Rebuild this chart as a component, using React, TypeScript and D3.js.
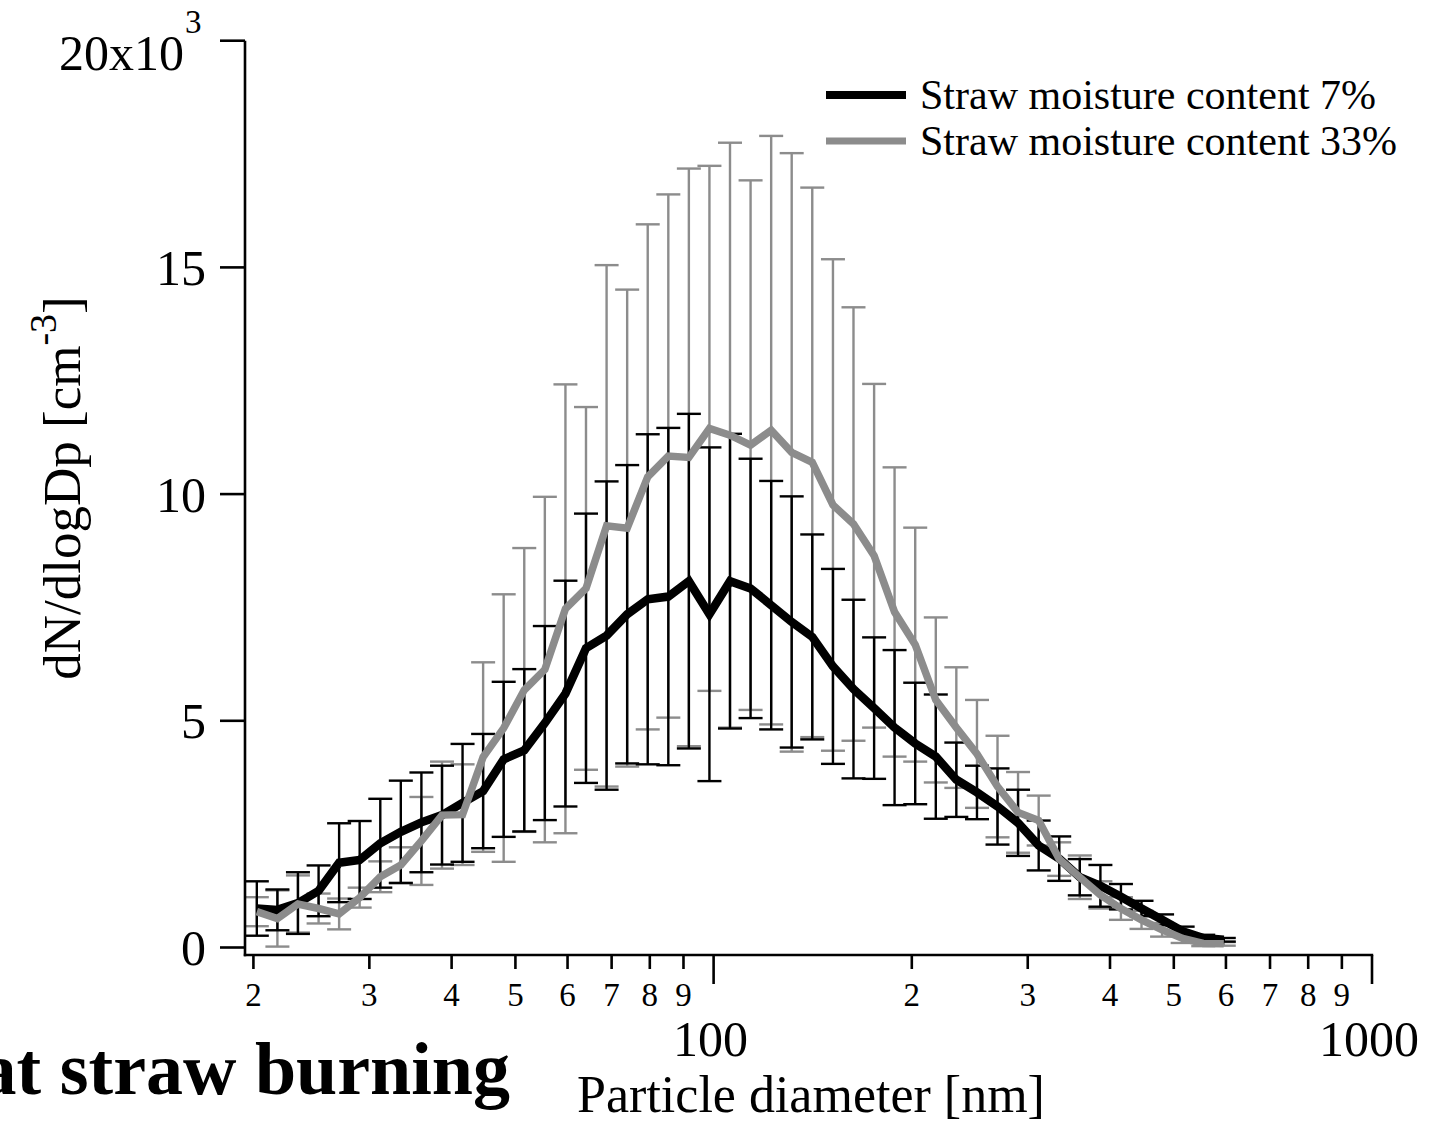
import React from "react";
import * as d3 from "d3";

// Particle diameter (nm), bin midpoints
const diameters = [
  20.24, 21.75, 23.37, 25.12, 26.99, 29.0, 31.17, 33.49, 35.99, 38.68,
  41.56, 44.66, 47.99, 51.57, 55.42, 59.56, 64.0, 68.78, 73.91, 79.42,
  85.35, 91.71, 98.55, 105.9, 113.8, 122.3, 131.4, 141.2, 151.8, 163.1,
  175.3, 188.3, 202.4, 217.5, 233.7, 251.2, 269.9, 290.0, 311.7, 334.9,
  359.9, 386.8, 415.6, 446.6, 479.9, 515.7, 554.2, 595.5,
];

// Straw moisture content 7% (x10^3 cm^-3)
const mean7 = [
  0.86, 0.83, 0.98, 1.25, 1.87, 1.93, 2.3, 2.55, 2.76, 2.92,
  3.19, 3.45, 4.15, 4.35, 4.95, 5.6, 6.6, 6.88, 7.35, 7.68,
  7.74, 8.08, 7.35, 8.08, 7.92, 7.55, 7.18, 6.85, 6.2, 5.7,
  5.28, 4.85, 4.5, 4.21, 3.7, 3.42, 3.11, 2.75, 2.25, 1.96,
  1.55, 1.36, 1.12, 0.86, 0.61, 0.36, 0.21, 0.17,
];
const sd7 = [
  0.6, 0.45, 0.68, 0.56, 0.87, 0.86, 0.98, 1.13, 1.1, 1.09,
  1.3, 1.26, 1.71, 1.79, 2.14, 2.49, 2.97, 3.4, 3.29, 3.64,
  3.72, 3.69, 3.68, 3.25, 2.86, 2.74, 2.77, 2.26, 2.15, 1.97,
  1.56, 1.71, 1.34, 1.37, 0.82, 0.59, 0.84, 0.73, 0.55, 0.49,
  0.4, 0.46, 0.28, 0.17, 0.12, 0.1, 0.07, 0.04,
];

// Straw moisture content 33% (x10^3 cm^-3)
const mean33 = [
  0.79, 0.64, 0.96, 0.86, 0.74, 1.1, 1.56, 1.82, 2.35, 2.92,
  2.93, 4.2, 4.84, 5.68, 6.13, 7.47, 7.92, 9.3, 9.25, 10.38,
  10.84, 10.81, 11.45, 11.3, 11.08, 11.41, 10.92, 10.7, 9.76, 9.34,
  8.64, 7.4, 6.68, 5.46, 4.85, 4.27, 3.55, 2.98, 2.8, 1.95,
  1.55, 1.16, 0.86, 0.61, 0.39, 0.2, 0.09, 0.08,
];
const sd33 = [
  0.32, 0.62, 0.63, 0.33, 0.34, 0.22, 0.34, 0.39, 0.97, 1.18,
  1.11, 2.09, 2.95, 3.13, 3.81, 4.95, 4.0, 5.75, 5.26, 5.57,
  5.77, 6.37, 5.79, 6.45, 5.84, 6.49, 6.6, 6.06, 5.42, 4.78,
  3.79, 3.19, 2.58, 1.82, 1.33, 1.19, 1.12, 0.89, 0.55, 0.37,
  0.48, 0.3, 0.25, 0.2, 0.15, 0.1, 0.06, 0.04,
];

const yTicks = [0, 5, 10, 15];
const xMinorTicks = [20, 30, 40, 50, 60, 70, 80, 90, 200, 300, 400, 500, 600, 700, 800, 900];
const xMajorTicks = [100, 1000];
const legendLabels = ["Straw moisture content 7%", "Straw moisture content 33%"];

const BLACK = "#000";
const GRAY = "#8c8c8c";
const FONT = "'Liberation Serif', 'Times New Roman', serif";

export default function App() {
  const x = d3.scaleLog().domain([19.42, 1000]).range([245, 1372]);
  const y = d3.scaleLinear().domain([0, 20]).range([947.5, 40.7]);
  const axisY = 955;
  const axisX = 245;

  const line = d3
    .line<number>()
    .x((_, i) => x(diameters[i]))
    .y((d) => y(d));

  const bars = (means: number[], sds: number[], color: string) =>
    means.map((m, i) => {
      const cx = x(diameters[i]);
      const y1 = y(m + sds[i]);
      const y2 = y(m - sds[i]);
      return (
        <g key={i} stroke={color} strokeWidth={2.4}>
          <line x1={cx} x2={cx} y1={y1} y2={y2} />
          <line x1={cx - 12} x2={cx + 12} y1={y1} y2={y1} />
          <line x1={cx - 12} x2={cx + 12} y1={y2} y2={y2} />
        </g>
      );
    });

  return (
    <svg
      width={1435}
      height={1124}
      style={{ position: "absolute", left: 0, top: 0, background: "#fff" }}
      fontFamily={FONT}
    >
      <rect x={0} y={0} width={1435} height={1124} fill="#fff" />

      {/* error bars and lines */}
      {bars(mean33, sd33, GRAY)}
      {bars(mean7, sd7, BLACK)}
      <path d={line(mean7) || ""} fill="none" stroke={BLACK} strokeWidth={8.5} strokeLinejoin="miter" />
      <path d={line(mean33) || ""} fill="none" stroke={GRAY} strokeWidth={7.5} strokeLinejoin="miter" />

      {/* axes */}
      <line x1={axisX} x2={axisX} y1={y(20)} y2={axisY + 1.2} stroke="#000" strokeWidth={2.6} />
      <line x1={axisX - 1.2} x2={x(1000) + 1.2} y1={axisY} y2={axisY} stroke="#000" strokeWidth={2.6} />

      {[...yTicks, 20].map((t) => (
        <line key={"yt" + t} x1={220} x2={axisX} y1={y(t)} y2={y(t)} stroke="#000" strokeWidth={2.6} />
      ))}
      {yTicks.map((t) => (
        <text key={"yl" + t} x={206} y={y(t)} dy="0.35em" textAnchor="end" fontSize={50}>
          {t}
        </text>
      ))}
      <text x={184} y={70} textAnchor="end" fontSize={50}>20x10</text>
      <text x={185} y={33} fontSize={33}>3</text>

      {xMinorTicks.map((t) => (
        <g key={"xm" + t}>
          <line x1={x(t)} x2={x(t)} y1={axisY} y2={axisY + 14} stroke="#000" strokeWidth={2.6} />
          <text x={x(t)} y={1006} textAnchor="middle" fontSize={33}>
            {String(t).charAt(0)}
          </text>
        </g>
      ))}
      {xMajorTicks.map((t) => (
        <g key={"xM" + t}>
          <line x1={x(t)} x2={x(t)} y1={axisY} y2={axisY + 29} stroke="#000" strokeWidth={2.6} />
          <text x={x(t) - 3} y={1056} textAnchor="middle" fontSize={50}>
            {t}
          </text>
        </g>
      ))}

      {/* axis titles */}
      <text x={811} y={1112} textAnchor="middle" fontSize={52}>
        Particle diameter [nm]
      </text>
      <text transform="translate(80,488) rotate(-90)" textAnchor="middle" fontSize={53}>
        dN/dlogDp [cm
        <tspan dy={-24} fontSize={38}>-3</tspan>
        <tspan dy={24}>]</tspan>
      </text>

      {/* cropped caption */}
      <text x={510} y={1094} textAnchor="end" fontSize={74} fontWeight="bold">
        at straw burning
      </text>

      {/* legend */}
      <line x1={826} x2={906} y1={95} y2={95} stroke={BLACK} strokeWidth={8} />
      <line x1={826} x2={906} y1={141} y2={141} stroke={GRAY} strokeWidth={7} />
      <text x={920} y={95} dy="0.33em" fontSize={42}>{legendLabels[0]}</text>
      <text x={920} y={141} dy="0.33em" fontSize={42}>{legendLabels[1]}</text>
    </svg>
  );
}
